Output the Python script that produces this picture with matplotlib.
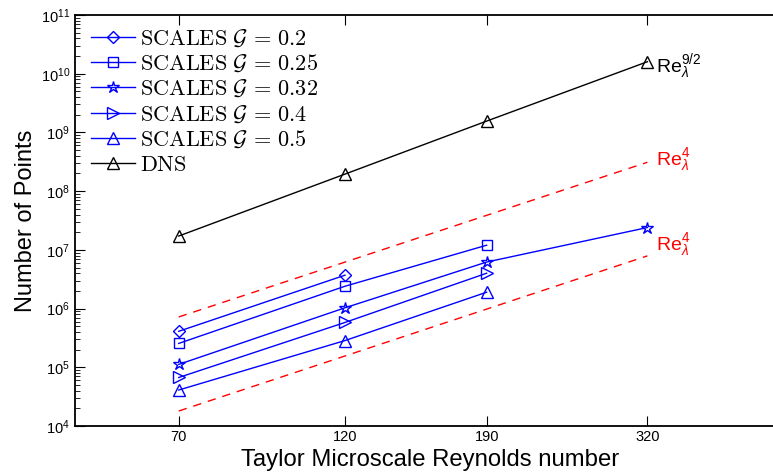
import numpy as np
import matplotlib.pyplot as plt
from matplotlib.font_manager import FontProperties
from matplotlib.ticker import FixedLocator, FixedFormatter, NullLocator, NullFormatter, LogLocator

plt.rcParams['font.family'] = ['Liberation Sans', 'DejaVu Sans']
plt.rcParams['mathtext.fontset'] = 'custom'
plt.rcParams['mathtext.rm'] = 'Liberation Sans'
plt.rcParams['mathtext.it'] = 'Liberation Sans:italic'
plt.rcParams['mathtext.bf'] = 'Liberation Sans:bold'

# Taylor microscale Reynolds numbers
re_lambda = [70, 120, 190, 320]
xtick_labels = ['70', '120', '190', '320']

# SCALES runs (number of points)
scales_g02 = [4.1e5, 3.7e6]
scales_g025 = [2.55e5, 2.4e6, 1.2e7]
scales_g032 = [1.12e5, 1.03e6, 6.2e6, 2.4e7]
scales_g04 = [6.7e4, 5.8e5, 4.0e6]
scales_g05 = [4.1e4, 2.85e5, 1.9e6]

# DNS
dns = [1.72e7, 1.95e8, 1.56e9, 1.6e10]

# Re^4 guide lines (end points)
guide_x = [70, 320]
guide_upper = [7.2e5, 3.1e8]
guide_lower = [1.8e4, 7.9e6]

fig = plt.figure(figsize=(7.73, 4.76), dpi=100)
ax = fig.add_axes([75 / 773, 50 / 476, 710 / 773, 411 / 476])

blue = '#0000ff'
lw = 1.0

ax.plot(re_lambda[:2], scales_g02, color=blue, lw=lw, marker='D', ms=6.5, mfc='none',
        label=r'$\mathrm{SCALES}\ \mathcal{G}\,=\,0.2$')
ax.plot(re_lambda[:3], scales_g025, color=blue, lw=lw, marker='s', ms=7, mfc='none',
        label=r'$\mathrm{SCALES}\ \mathcal{G}\,=\,0.25$')
ax.plot(re_lambda, scales_g032, color=blue, lw=lw, marker='*', ms=9, mfc='none',
        label=r'$\mathrm{SCALES}\ \mathcal{G}\,=\,0.32$')
ax.plot(re_lambda[:3], scales_g04, color=blue, lw=lw, marker='>', ms=8.5, mfc='none',
        label=r'$\mathrm{SCALES}\ \mathcal{G}\,=\,0.4$')
ax.plot(re_lambda[:3], scales_g05, color=blue, lw=lw, marker='^', ms=8.5, mfc='none',
        label=r'$\mathrm{SCALES}\ \mathcal{G}\,=\,0.5$')
ax.plot(re_lambda, dns, color='black', lw=lw, marker='^', ms=8.5, mfc='none',
        label=r'$\mathrm{DNS}$')

ax.plot(guide_x, guide_upper, color='red', lw=lw, dashes=(6, 5))
ax.plot(guide_x, guide_lower, color='red', lw=lw, dashes=(6, 5))

ax.text(329, 1.07e10, r'Re$_{\lambda}^{9/2}$', fontsize=14, va='baseline', ha='left')
ax.text(329, 2.8e8, r'Re$_{\lambda}^{4}$', fontsize=14, color='red',
        va='baseline', ha='left')
ax.text(329, 9.9e6, r'Re$_{\lambda}^{4}$', fontsize=14, color='red',
        va='baseline', ha='left')

ax.set_xscale('log')
ax.set_yscale('log')
ax.set_xlim(50, 500)
ax.set_ylim(1e4, 1e11)
ax.xaxis.set_major_locator(FixedLocator(re_lambda))
ax.xaxis.set_major_formatter(FixedFormatter(xtick_labels))
ax.xaxis.set_minor_locator(NullLocator())
ax.yaxis.set_major_locator(LogLocator(base=10, numticks=20))
ax.yaxis.set_minor_locator(LogLocator(base=10, subs=np.arange(2, 10), numticks=20))
ax.yaxis.set_minor_formatter(NullFormatter())
ax.tick_params(which='both', direction='in', top=True, right=True, labelsize=10.5)
ax.tick_params(which='major', length=7, width=0.8)
ax.tick_params(which='minor', length=3.5, width=0.6)
ax.tick_params(axis='x', pad=3)
for s in ax.spines.values():
    s.set_linewidth(1.3)

ax.set_xlabel('Taylor Microscale Reynolds number', fontsize=17.2, va='baseline')
ax.xaxis.set_label_coords(0.5, (476 - 466 - 50) / 411)
ax.set_ylabel('Number of Points', fontsize=17, labelpad=3)

leg_font = FontProperties(family='DejaVu Serif', size=16, math_fontfamily='cm')
ax.legend(loc='upper left', bbox_to_anchor=(0.022, 0.97), frameon=False, prop=leg_font,
          numpoints=1, handlelength=2.0, handletextpad=0.2, labelspacing=0.15,
          borderpad=0, borderaxespad=0)

fig.savefig('out.png', dpi=100)
